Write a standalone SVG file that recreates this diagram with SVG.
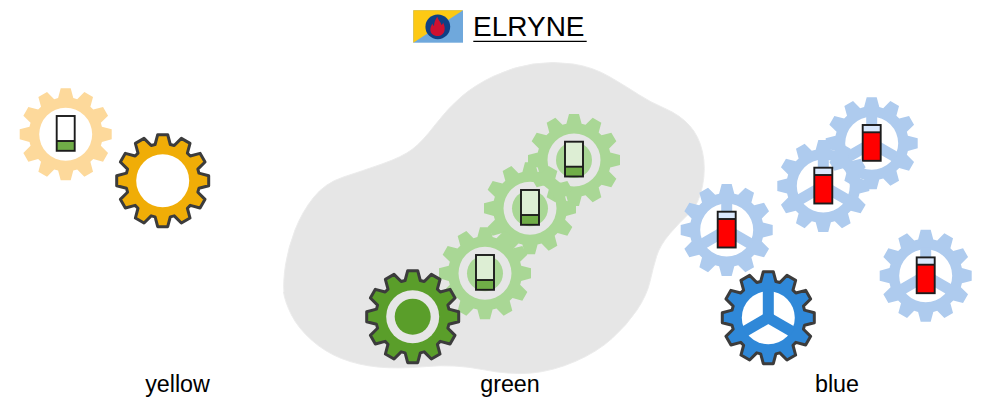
<svg xmlns="http://www.w3.org/2000/svg" width="1000" height="400" viewBox="0 0 1000 400">
<style>
text{font-family:"Liberation Sans",Arial,sans-serif;fill:#000}
.title{font-size:28px}
.label{font-size:23.3px;text-anchor:middle}
.ring{fill-rule:evenodd}
.main{stroke:#3c3c3c;stroke-width:3;stroke-linejoin:round}
.py{fill:#fdd99b}.pg{fill:#a9d795}.pb{fill:#aecbee}
.my{fill:#f0ad07}.mg{fill:#5a9e2a}.mb{fill:#2f88d8}
.box{fill:none;stroke:#1c1c1c;stroke-width:1.9}
</style>
<defs>
<path id="gear-outer" d="M-7.6,-36.2L-5,-46L5,-46L7.6,-36.2L11.52,-35.15L18.67,-42.34L27.33,-37.34L24.68,-27.55L27.55,-24.68L37.34,-27.33L42.34,-18.67L35.15,-11.52L36.2,-7.6L46,-5L46,5L36.2,7.6L35.15,11.52L42.34,18.67L37.34,27.33L27.55,24.68L24.68,27.55L27.33,37.34L18.67,42.34L11.52,35.15L7.6,36.2L5,46L-5,46L-7.6,36.2L-11.52,35.15L-18.67,42.34L-27.33,37.34L-24.68,27.55L-27.55,24.68L-37.34,27.33L-42.34,18.67L-35.15,11.52L-36.2,7.6L-46,5L-46,-5L-36.2,-7.6L-35.15,-11.52L-42.34,-18.67L-37.34,-27.33L-27.55,-24.68L-24.68,-27.55L-27.33,-37.34L-18.67,-42.34L-11.52,-35.15Z"/>
<path id="gear-ring" class="ring" d="M-7.6,-36.2L-5,-46L5,-46L7.6,-36.2L11.52,-35.15L18.67,-42.34L27.33,-37.34L24.68,-27.55L27.55,-24.68L37.34,-27.33L42.34,-18.67L35.15,-11.52L36.2,-7.6L46,-5L46,5L36.2,7.6L35.15,11.52L42.34,18.67L37.34,27.33L27.55,24.68L24.68,27.55L27.33,37.34L18.67,42.34L11.52,35.15L7.6,36.2L5,46L-5,46L-7.6,36.2L-11.52,35.15L-18.67,42.34L-27.33,37.34L-24.68,27.55L-27.55,24.68L-37.34,27.33L-42.34,18.67L-35.15,11.52L-36.2,7.6L-46,5L-46,-5L-36.2,-7.6L-35.15,-11.52L-42.34,-18.67L-37.34,-27.33L-27.55,-24.68L-24.68,-27.55L-27.33,-37.34L-18.67,-42.34L-11.52,-35.15Z M0,-26.5A26.5,26.5 0 1 0 0,26.5A26.5,26.5 0 1 0 0,-26.5Z"/>
<g id="spokes">
<rect x="-5.5" y="-28" width="11" height="28"/>
<rect x="-5.5" y="-28" width="11" height="28" transform="rotate(120)"/>
<rect x="-5.5" y="-28" width="11" height="28" transform="rotate(240)"/>
<polygon points="5.5,-3.18 0,6.35 -5.5,-3.18"/>
</g>
<g id="bat-yellow">
<rect x="-9" y="-18.3" width="18" height="34.8" fill="#fff"/>
<rect x="-9" y="6.7" width="18" height="9.8" fill="#70ad47"/>
<path d="M-9,6.7H9" class="box"/>
<rect x="-9" y="-18.3" width="18" height="34.8" class="box"/>
</g>
<g id="bat-green">
<rect x="-9" y="-18.3" width="18" height="34.8" fill="#ddeed4"/>
<rect x="-9" y="6.7" width="18" height="9.8" fill="#70ad47"/>
<path d="M-9,6.7H9" class="box"/>
<rect x="-9" y="-18.3" width="18" height="34.8" class="box"/>
</g>
<g id="bat-blue">
<rect x="-9" y="-18.3" width="18" height="35.8" fill="#dae8fc"/>
<rect x="-9" y="-11" width="18" height="28.5" fill="#ff0000"/>
<path d="M-9,-11H9" class="box"/>
<rect x="-9" y="-18.3" width="18" height="35.8" class="box"/>
</g>
</defs>

<path id="area" fill="#e6e6e6" stroke="#ececec" stroke-width="1" d="M284,292Q283,282 285.5,265Q288,248 295,230Q302,212 313.5,197.5Q325,183 343.5,177Q362,171 382,164Q402,157 412,149.5Q422,142 435,125Q448,108 461.5,96.5Q475,85 494,76Q513,67 533,64Q553,61 573,64Q593,67 610,77Q627,87 638.5,94.5Q650,102 665,108.5Q680,115 689.5,125.5Q699,136 702.5,152Q706,168 702.5,186Q699,204 689.5,213Q680,222 670,233.5Q660,245 656.5,256.5Q653,268 650,281.5Q647,295 637,310Q627,325 612,338.5Q597,352 575,361.5Q553,371 531.5,373Q510,375 482.5,369.5Q455,364 426.5,366.5Q398,369 378,367Q358,365 341.5,358.5Q325,352 311.5,340Q298,328 291.5,315Q285,302 283.5,292Z"/>

<g id="logo">
<rect x="413.3" y="10.3" width="49.7" height="32.4" fill="#6fa8dc"/>
<polygon points="413.3,10.3 463,10.3 413.3,42.7" fill="#fdc914"/>
<circle cx="437.8" cy="26.8" r="12.4" fill="#0f3f85"/>
<path d="M437.3,16.7C438,20 441,22 441.5,25C442.5,24.5 443,23.5 443,22.5C444.5,25 445,28 444.5,30.5C444,34 441,36 437.5,36C433.5,36 430.5,33.5 430.3,30C430.2,27.5 431.5,25 432.5,23.5C432.8,25 433.3,25.5 434,26C434,22.5 435.5,19 437.3,16.7Z" fill="#cf1030"/>
</g>
<g id="title">
<text class="title" x="473" y="36">ELRYNE</text>
<path d="M473.3,41.3H586.7" stroke="#000" stroke-width="1.3" fill="none"/>
</g>

<g id="yellow-pale" transform="translate(65.7,134.3)">
<use href="#gear-ring" class="py"/>
<use href="#bat-yellow"/>
</g>
<g id="yellow-main" transform="translate(162.7,180.7)">
<use href="#gear-outer" class="my main"/>
<circle r="26.5" fill="#fff"/>
</g>

<g id="green-pale-3" transform="translate(574,160)">
<use href="#gear-ring" class="pg"/>
<circle r="18" class="pg"/>
<use href="#bat-green"/>
</g>
<g id="green-pale-2" transform="translate(530,208.3)">
<use href="#gear-ring" class="pg"/>
<circle r="18" class="pg"/>
<use href="#bat-green"/>
</g>
<g id="green-pale-1" transform="translate(485,273.3)">
<use href="#gear-ring" class="pg"/>
<circle r="18" class="pg"/>
<use href="#bat-green"/>
</g>
<g id="green-main" transform="translate(412.7,316.7)">
<use href="#gear-outer" class="mg main"/>
<circle r="26.5" fill="#e6e6e6"/>
<circle r="18" class="mg"/>
</g>

<g id="blue-pale-2" transform="translate(871.7,143.3)">
<use href="#gear-ring" class="pb"/>
<use href="#spokes" class="pb"/>
<use href="#bat-blue"/>
</g>
<g id="blue-pale-3" transform="translate(823.3,186)">
<use href="#gear-ring" class="pb"/>
<use href="#spokes" class="pb"/>
<use href="#bat-blue"/>
</g>
<g id="blue-pale-1" transform="translate(726.7,230)">
<use href="#gear-ring" class="pb"/>
<use href="#spokes" class="pb"/>
<use href="#bat-blue"/>
</g>
<g id="blue-pale-4" transform="translate(925.7,275.7)">
<use href="#gear-ring" class="pb"/>
<use href="#spokes" class="pb"/>
<use href="#bat-blue"/>
</g>
<g id="blue-main" transform="translate(768.3,317.7)">
<use href="#gear-outer" class="mb main"/>
<circle r="26.5" fill="#fff"/>
<use href="#spokes" class="mb"/>
</g>

<text class="label" x="177.5" y="392">yellow</text>
<text class="label" x="510" y="392">green</text>
<text class="label" x="837" y="392">blue</text>
</svg>
